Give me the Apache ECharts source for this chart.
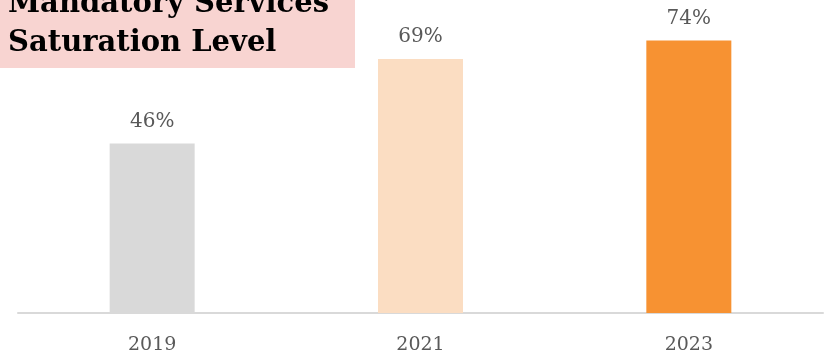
<!DOCTYPE html>
<html><head><meta charset="utf-8">
<script src="https://cdn.jsdelivr.net/npm/echarts@6/dist/echarts.min.js"></script>
<style>html,body{margin:0;padding:0;background:#fff}#c{width:827px;height:357px}</style>
</head><body><div id="c"></div>
<script>
const categories = ['2019', '2021', '2023'];
const values = [46, 69, 74];
const barColors = ['#D9D9D9', '#FBDDC2', '#F79232'];
const titleLines = ['Mandatory Services', 'Saturation Level'];

const chart = echarts.init(document.getElementById('c'));
chart.setOption({
  animation: false,
  grid: { left: 18, right: 4, top: 0, bottom: 44 },
  xAxis: {
    type: 'category', data: categories,
    axisLine: { lineStyle: { color: '#D9D9D9', width: 2 } },
    axisTick: { show: false },
    axisLabel: { color: '#595959', fontFamily: 'DejaVu Serif', fontSize: 19, margin: 23 }
  },
  yAxis: { type: 'value', min: 0, max: 85, show: false, splitLine: { show: false } },
  series: [{
    type: 'bar', barWidth: 85,
    data: values.map((v, i) => ({ value: v, itemStyle: { color: barColors[i] } })),
    label: { show: true, position: 'top', distance: 12, formatter: '{c}%', color: '#595959', fontFamily: 'DejaVu Serif', fontSize: 20 }
  }],
  graphic: [
    { type: 'rect', left: 0, top: 0, shape: { width: 355, height: 68 }, style: { fill: '#F8D4D1' }, z: 10 },
    { type: 'text', left: 8, top: -15, z: 11, style: { text: titleLines.join('\n'), font: 'bold 29px "DejaVu Serif"', fill: '#000', lineHeight: 39 } }
  ]
});
</script></body></html>
